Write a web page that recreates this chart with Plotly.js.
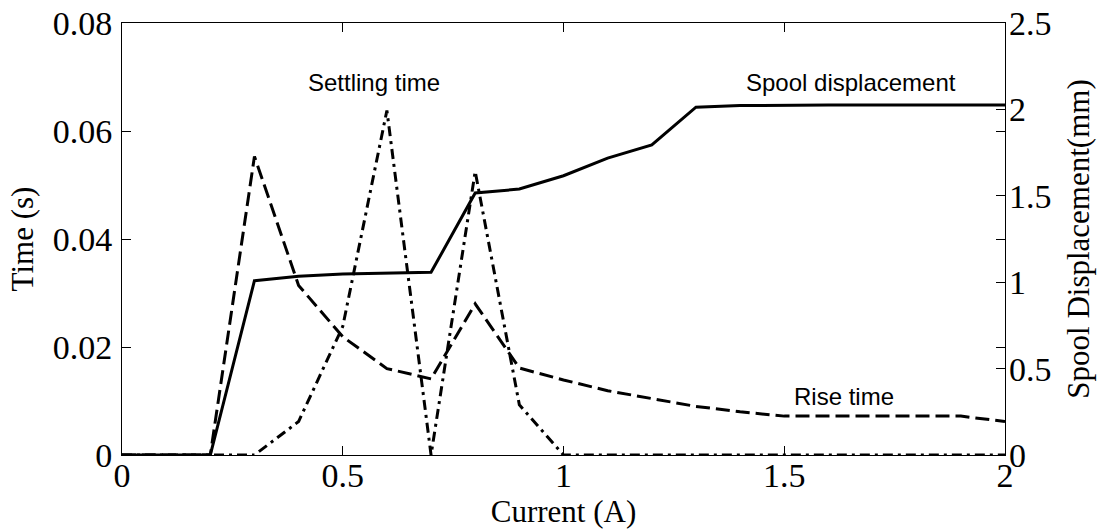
<!DOCTYPE html>
<html>
<head>
<meta charset="utf-8">
<script src="https://cdn.plot.ly/plotly-3.0.1.min.js"></script>
<style>html,body{margin:0;padding:0;background:#fff;}#chart{width:1102px;height:531px;}</style>
</head>
<body>
<div id="chart"></div>
<script>
// Current (A)
const current = [0, 0.1, 0.2, 0.3, 0.4, 0.5, 0.6, 0.7, 0.8, 0.9, 1.0, 1.1, 1.2, 1.3, 1.4, 1.5, 1.6, 1.7, 1.8, 1.9, 2.0];
// Rise time (s)
const riseTime = [0, 0, 0, 0.0553, 0.0314, 0.0219, 0.0160, 0.0141, 0.0280, 0.0161, 0.0139, 0.0119, 0.0105, 0.0090, 0.0080, 0.0072, 0.0072, 0.0072, 0.0072, 0.0072, 0.0062];
// Settling time (s)
const settlingTime = [0, 0, 0, 0, 0.0062, 0.0238, 0.0638, 0, 0.0525, 0.0093, 0, 0, 0, 0, 0, 0, 0, 0, 0, 0, 0];
// Spool displacement (mm)
const spoolDisp = [0, 0, 0, 1.009, 1.034, 1.047, 1.051, 1.057, 1.516, 1.539, 1.616, 1.718, 1.795, 2.013, 2.022, 2.025, 2.025, 2.025, 2.025, 2.025, 2.025];

const xTicks = [0, 0.5, 1, 1.5, 2];
const xTickText = ['0', '0.5', '1', '1.5', '2'];
const yTicks = [0, 0.02, 0.04, 0.06, 0.08];
const yTickText = ['0', '0.02', '0.04', '0.06', '0.08'];
const y2Ticks = [0, 0.5, 1, 1.5, 2, 2.5];
const y2TickText = ['0', '0.5', '1', '1.5', '2', '2.5'];

const serif = 'Liberation Serif, Times New Roman, serif';
const sans = 'Liberation Sans, Arial, sans-serif';

const traces = [
  {x: current, y: riseTime, type: 'scatter', mode: 'lines', name: 'Rise time',
   line: {color: '#000', width: 3, dash: '14px,6px'}, xaxis: 'x', yaxis: 'y'},
  {x: current, y: settlingTime, type: 'scatter', mode: 'lines', name: 'Settling time',
   line: {color: '#000', width: 3, dash: '10px,5px,3px,5px'}, xaxis: 'x', yaxis: 'y'},
  {x: current, y: spoolDisp, type: 'scatter', mode: 'lines', name: 'Spool displacement',
   line: {color: '#000', width: 3}, xaxis: 'x', yaxis: 'y2'}
];

const axisCommon = {
  showgrid: false, zeroline: false, showline: true, linecolor: '#000', linewidth: 1,
  ticks: 'inside', ticklen: 9, tickcolor: '#000', tickwidth: 1,
  tickfont: {family: serif, size: 34, color: '#000'}
};

const layout = {
  width: 1102, height: 531,
  margin: {l: 122, r: 97, t: 23, b: 76},
  paper_bgcolor: '#fff', plot_bgcolor: '#fff',
  showlegend: false,
  xaxis: Object.assign({}, axisCommon, {
    range: [0, 2], tickmode: 'array', tickvals: xTicks, ticktext: xTickText, mirror: 'ticks',
    ticklabelstandoff: -10,
    title: {text: 'Current (A)', font: {family: serif, size: 31, color: '#000'}, standoff: 0}
  }),
  yaxis: Object.assign({}, axisCommon, {
    range: [0, 0.08], tickmode: 'array', tickvals: yTicks, ticktext: yTickText, mirror: 'ticks',
    ticklabelstandoff: 2,
    title: {text: 'Time (s)', font: {family: serif, size: 31, color: '#000'}, standoff: 9}
  }),
  yaxis2: Object.assign({}, axisCommon, {
    range: [0, 2.5], tickmode: 'array', tickvals: y2Ticks, ticktext: y2TickText,
    overlaying: 'y', side: 'right', showline: false, ticklabelstandoff: 3,
    title: {text: 'Spool Displacement(mm)', font: {family: serif, size: 31, color: '#000'}, standoff: 16}
  }),
  annotations: [
    {text: 'Settling time', x: 0.571, y: 0.0689, xref: 'x', yref: 'y', showarrow: false,
     font: {family: sans, size: 24, color: '#000'}},
    {text: 'Spool displacement', x: 1.651, y: 0.0689, xref: 'x', yref: 'y', showarrow: false,
     font: {family: sans, size: 24, color: '#000'}},
    {text: 'Rise time', x: 1.635, y: 0.0108, xref: 'x', yref: 'y', showarrow: false,
     font: {family: sans, size: 24, color: '#000'}}
  ]
};

Plotly.newPlot('chart', traces, layout, {displayModeBar: false, staticPlot: true});
</script>
</body>
</html>
